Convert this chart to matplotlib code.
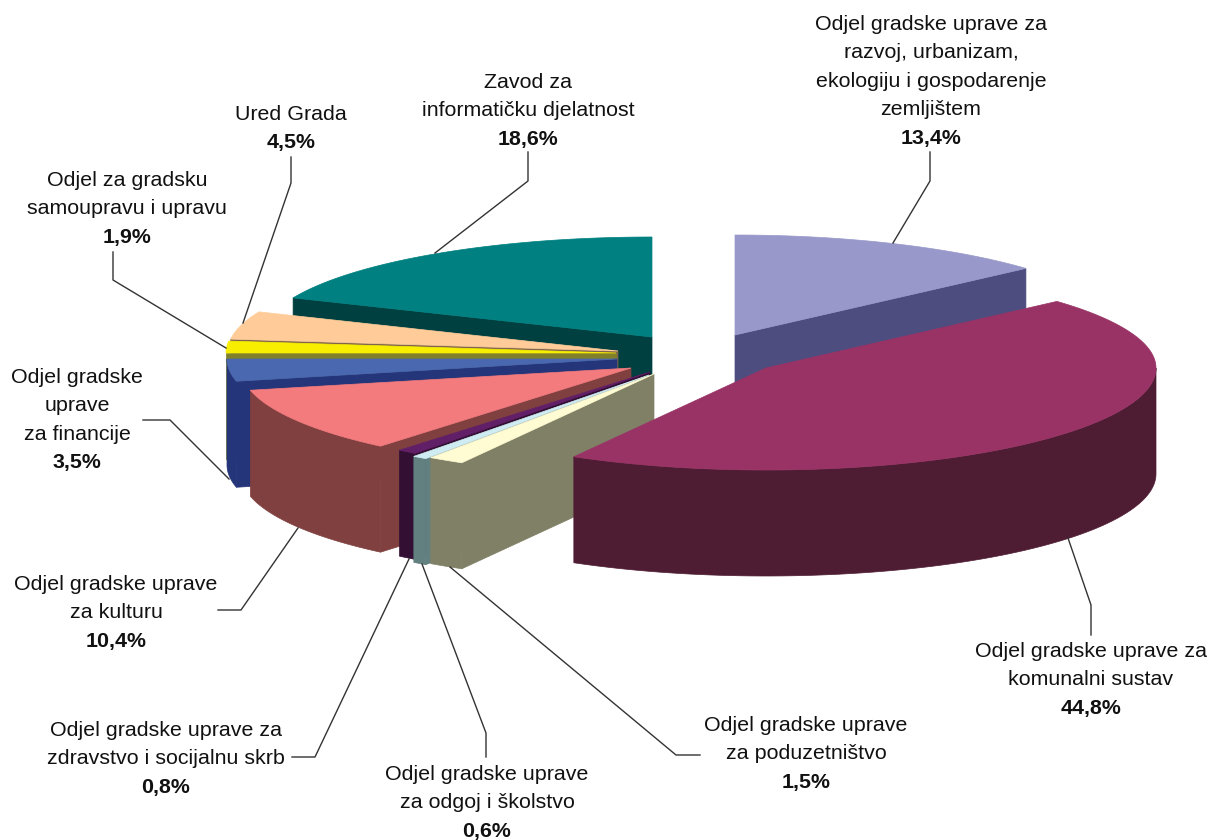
import numpy as np
import matplotlib
matplotlib.use('Agg')
import matplotlib.pyplot as plt
from matplotlib.patches import Polygon

plt.rcParams['font.family'] = ['Liberation Sans', 'DejaVu Sans']

# udjeli po odjelima, od 12 sati u smjeru kazaljke
values = [13.4, 44.8, 1.5, 0.6, 0.8, 10.4, 3.5, 1.9, 4.5, 18.6]
value_labels = ['13,4%', '44,8%', '1,5%', '0,6%', '0,8%', '10,4%', '3,5%', '1,9%', '4,5%', '18,6%']
names = [
    ['Odjel gradske uprave za', 'razvoj, urbanizam,', 'ekologiju i gospodarenje', 'zemljištem'],
    ['Odjel gradske uprave za', 'komunalni sustav'],
    ['Odjel gradske uprave', 'za poduzetništvo'],
    ['Odjel gradske uprave', 'za odgoj i školstvo'],
    ['Odjel gradske uprave za', 'zdravstvo i socijalnu skrb'],
    ['Odjel gradske uprave', 'za kulturu'],
    ['Odjel gradske', 'uprave', 'za financije'],
    ['Odjel za gradsku', 'samoupravu i upravu'],
    ['Ured Grada'],
    ['Zavod za', 'informatičku djelatnost'],
]

top_colors = ['#9898CA', '#993366', '#FFFBD2', '#CFECF2', '#611F68', '#F47B7D',
              '#4A68B0', '#F7EE00', '#FFCC99', '#008080']
side_colors = ['#4D4D80', '#4F1D33', '#808066', '#628080', '#330F33', '#804040',
               '#253579', '#80802A', '#80664D', '#004040']

# vrh svakog isjecka (izvucen iz sredista), u pikselima
apex = [(735, 335), (766, 368), (654, 374), (649, 375), (650, 372), (631, 368),
        (617, 359), (616, 353), (618, 351), (652, 337)]
RX = 390.
RY_BACK = 100.
RY_FRONT = 102.
DEPTH = 106.

draw_order = [0, 9, 8, 7, 6, 5, 4, 3, 2, 1]

# bazna linija prvog retka
label_x = [931, 1091, 806, 487, 166, 116, 77, 127, 291, 528]
label_y = [30, 657, 731, 780, 736, 590, 383, 186, 120, 88]
LINE_H = 28.4

leaders = [
    [(930, 152), (930, 181), (893, 243)],
    [(1091, 635), (1091, 605), (1068, 538)],
    [(700, 755), (676, 755), (450, 567)],
    [(486, 757), (486, 733), (422, 564)],
    [(292, 757), (315, 757), (409, 559)],
    [(218, 610), (241, 610), (298, 528)],
    [(143, 420), (170, 420), (229, 479)],
    [(113, 252), (113, 280), (226, 348)],
    [(291, 157), (291, 183), (243, 323)],
    [(528, 152), (528, 181), (435, 253)],
]


def rim(center, t):
    t = np.radians(t)
    ry = np.where(np.cos(t) > 0, RY_BACK, RY_FRONT)
    return np.column_stack([center[0] + RX * np.sin(t), center[1] - ry * np.cos(t)])


fig = plt.figure(figsize=(12.1, 8.4), dpi=100)
ax = fig.add_axes([0, 0, 1, 1])
ax.set_xlim(0, 1210)
ax.set_ylim(840, 0)
ax.axis('off')

edges = np.concatenate([[0], np.cumsum(values)]) / np.sum(values) * 360.


def fill(points, color, z):
    ax.add_patch(Polygon(points, closed=True, facecolor=color, edgecolor=color, linewidth=0.5, zorder=z))


for z, i in enumerate(draw_order):
    start, end = edges[i], edges[i + 1]
    c = np.array(apex[i], dtype=float)
    down = np.array([0, DEPTH])
    # rezne plohe koje se vide
    for t, visible in ((start, np.sin(np.radians(start)) < -1e-6), (end, np.sin(np.radians(end)) > 1e-6)):
        if visible:
            p = rim(c, np.array([t]))[0]
            fill([c, p, p + down, c + down], side_colors[i], z + 1)
    # vanjski plast, samo prednji dio
    a, b = max(start, 90.), min(end, 270.)
    if b > a:
        arc = rim(c, np.linspace(a, b, 80))
        fill(np.vstack([arc, (arc + down)[::-1]]), side_colors[i], z + 1)
    # gornja ploha
    arc = rim(c, np.linspace(start, end, 120))
    fill(np.vstack([[c], arc]), top_colors[i], z + 1)

for pts in leaders:
    xs, ys = zip(*pts)
    ax.plot(xs, ys, color='#333333', lw=1.0, zorder=30)

for i in range(len(values)):
    y = label_y[i]
    for line in names[i]:
        ax.text(label_x[i], y, line, ha='center', va='baseline', fontsize=15.4, color='#111111', zorder=40)
        y += LINE_H
    ax.text(label_x[i], y, value_labels[i], ha='center', va='baseline', fontsize=15.4,
            fontweight='bold', color='#111111', zorder=40)

fig.savefig('out.png', dpi=100)
